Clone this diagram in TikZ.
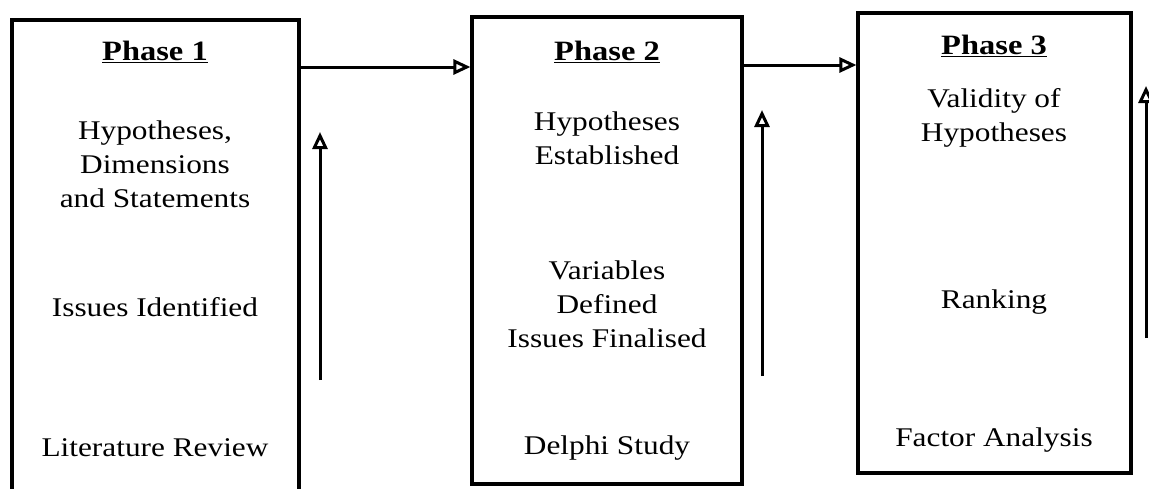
\documentclass[tikz,border=0pt]{standalone}
\usepackage{fontspec}
\setmainfont{Liberation Serif}[FakeStretch=1.16]
\usetikzlibrary{arrows.meta}
\begin{document}
\begin{tikzpicture}[x=1pt,y=-1pt,
  phasebox/.style={draw,line width=3.2pt,rectangle,inner sep=0pt},
  txt/.style={align=center,inner sep=0pt,font=\fontsize{27}{34}\selectfont},
  head/.style={inner sep=0pt,font=\fontsize{28}{34}\selectfont\bfseries},
  arr/.style={line width=3pt,-{Triangle[open,length=17pt,width=15pt,line width=3pt]}}]
\useasboundingbox (0,0) rectangle (1149,488);
% the three phase boxes
\node[phasebox,minimum width=287pt,minimum height=480pt] (b1) at (155.5,260) {};
\node[phasebox,minimum width=270pt,minimum height=467pt] (b2) at (607,250.5) {};
\node[phasebox,minimum width=273pt,minimum height=460pt] (b3) at (994.5,243) {};
% headings
\node[head] (h1) at (155,52) {\underline{Phase 1}};
\node[head] (h2) at (607,52) {\underline{Phase 2}};
\node[head] (h3) at (994,46) {\underline{Phase 3}};
% phase 1 contents
\node[txt] (p1a) at (155,164) {Hypotheses,\\Dimensions\\and Statements};
\node[txt] (p1b) at (155,307) {Issues Identified};
\node[txt] (p1c) at (155,448) {Literature Review};
% phase 2 contents
\node[txt] (p2a) at (607,138) {Hypotheses\\Established};
\node[txt] (p2b) at (607,304) {Variables\\Defined\\Issues Finalised};
\node[txt] (p2c) at (607,448) {Delphi Study};
% phase 3 contents
\node[txt] (p3a) at (994,118) {Validity of\\Hypotheses};
\node[txt] (p3b) at (994,302) {Ranking};
\node[txt] (p3c) at (994,440) {Factor Analysis};
% links between phases
\coordinate (r1) at (299,67);
\coordinate (r2) at (742,65);
\draw[arr] (r1) -- (r1 -| b2.west);
\draw[arr] (r2) -- (r2 -| b3.west);
% upward progress arrows
\coordinate (u1b) at (320,380);
\coordinate (u1t) at (320,132);
\coordinate (u2b) at (762,376);
\coordinate (u2t) at (762,110);
\coordinate (u3b) at (1146,338);
\coordinate (u3t) at (1146,86);
\draw[arr] (u1b) -- (u1t);
\draw[arr] (u2b) -- (u2t);
\draw[arr] (u3b) -- (u3t);
\end{tikzpicture}
\end{document}
